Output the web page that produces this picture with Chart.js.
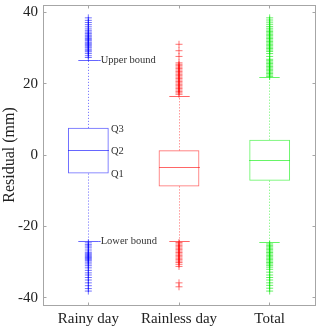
<!DOCTYPE html>
<html>
<head>
<meta charset="utf-8">
<script src="https://cdn.jsdelivr.net/npm/chart.js@4.4.1/dist/chart.umd.min.js"></script>
<style>
  html, body { margin: 0; padding: 0; background: #fff; }
  #wrap { width: 320px; height: 329px; position: relative; }
</style>
</head>
<body>
<div id="wrap"><canvas id="chart"></canvas></div>
<script>
'use strict';

// ---------- data ----------
const categories = ['Rainy day', 'Rainless day', 'Total'];
const q1 = [-5.2, -8.8, -7.2];
const median = [1.2, -3.5, -1.5];
const q3 = [7.6, 1.3, 4.3];
const upperBound = [26.6, 16.5, 21.6];
const lowerBound = [-24.1, -24.1, -24.5];
const yTicks = [-40, -20, 0, 20, 40];

const rainyOutliers = [
  27.3, 27.8, 28.4, 28.9, 29.2, 29.6, 30.0, 30.3, 30.7, 31.0, 31.3, 31.6, 32.0, 32.3,
  32.6, 33.0, 33.3, 33.6, 34.0, 34.4, 34.8, 35.3, 35.9, 36.5, 37.1, 37.7, 38.4,
  -24.6, -25.1, -25.5, -26.0, -26.6, -27.2, -27.5, -27.8, -28.1, -28.4, -28.7, -29.0,
  -29.3, -29.6, -30.0, -30.5, -31.0, -31.6, -32.3, -33.0, -33.6, -34.3, -35.0, -35.8,
  -36.6, -37.4, -38.1,
];
const rainlessOutliers = [
  17.0, 17.4, 17.8, 18.2, 18.6, 19.0, 19.4, 19.8, 20.2, 20.6, 21.0, 21.4, 21.8, 22.2,
  22.6, 23.0, 23.4, 23.8, 24.2, 24.6, 25.0, 25.4, 25.8, 27.6, 29.2, 31.0,
  -24.5, -24.9, -25.3, -25.7, -26.1, -26.5, -26.9, -27.3, -27.7, -28.1, -28.5, -28.9,
  -29.3, -29.7, -30.1, -30.6, -31.2, -35.8, -36.9,
];
const totalOutliers = [
  22.0, 22.4, 22.8, 23.2, 23.6, 24.0, 24.4, 24.8, 25.2, 25.6, 26.0, 26.4, 26.8, 27.6,
  28.4, 29.0, 29.4, 29.8, 30.2, 30.6, 31.0, 31.4, 31.8, 32.2, 32.6, 33.0, 33.4, 33.8,
  34.2, 34.6, 35.0, 35.5, 36.0, 36.6, 37.2, 37.8, 38.4,
  -24.9, -25.3, -25.7, -26.1, -26.5, -26.9, -27.3, -27.7, -28.1, -28.5, -28.9, -29.3,
  -29.7, -30.1, -30.5, -30.9, -31.4, -32.0, -32.8, -33.6, -34.3, -35.0, -35.8, -36.5,
  -37.3, -38.1,
];
const outliers = [rainyOutliers, rainlessOutliers, totalOutliers];

const COLORS = ['#0000ff', '#ff0000', '#00ee00'];
const POINT_COLORS = ['rgba(0,0,255,0.55)', 'rgba(255,0,0,0.55)', 'rgba(0,230,0,0.6)'];
const FONT = '"Liberation Serif", "Times New Roman", serif';

// ---------- plugins ----------
function seg(ctx, x1, y1, x2, y2) {
  ctx.beginPath();
  ctx.moveTo(x1, y1);
  ctx.lineTo(x2, y2);
  ctx.stroke();
}
const snap = (v) => Math.round(v - 0.5) + 0.5;

// median, whiskers, caps and the labels on the first box
const boxExtras = {
  id: 'boxExtras',
  afterDatasetsDraw(chart) {
    const { ctx, scales: { x, y } } = chart;
    const bars = chart.getDatasetMeta(0).data;
    ctx.save();
    ctx.lineWidth = 1;
    categories.forEach((c, i) => {
      const cx = snap(x.getPixelForValue(i));
      const half = bars[i].width / 2;
      const yMed = snap(y.getPixelForValue(median[i]));
      const yQ1 = y.getPixelForValue(q1[i]);
      const yQ3 = y.getPixelForValue(q3[i]);
      const yUp = snap(y.getPixelForValue(upperBound[i]));
      const yLo = snap(y.getPixelForValue(lowerBound[i]));
      ctx.strokeStyle = COLORS[i];
      ctx.globalAlpha = 0.6;
      seg(ctx, cx - half, yMed, cx + half, yMed);
      ctx.setLineDash([1, 2]);
      seg(ctx, cx, yQ3, cx, yUp);
      seg(ctx, cx, yQ1, cx, yLo);
      ctx.setLineDash([]);
      seg(ctx, cx - half / 2, yUp, cx + half / 2, yUp);
      seg(ctx, cx - half / 2, yLo, cx + half / 2, yLo);
      ctx.globalAlpha = 1;

      if (i === 0) {
        ctx.fillStyle = '#333';
        ctx.textBaseline = 'middle';
        ctx.textAlign = 'left';
        ctx.font = '10.5px ' + FONT;
        ctx.strokeStyle = COLORS[0];
        ctx.globalAlpha = 0.6;
        seg(ctx, cx + half / 2, yUp, cx + half / 2 + 2, yUp);
        seg(ctx, cx + half / 2, yLo, cx + half / 2 + 2, yLo);
        ctx.globalAlpha = 1;
        ctx.fillText('Upper bound', cx + half / 2 + 2, yUp);
        ctx.fillText('Lower bound', cx + half / 2 + 2, yLo);
        ctx.fillText('Q3', cx + half + 2, yQ3 + 1);
        ctx.fillText('Q2', cx + half + 2, yMed + 1);
        ctx.fillText('Q1', cx + half + 2, yQ1 + 1);
      }
    });
    ctx.restore();
  },
};

// MATLAB style box round the axes with inward ticks
const frame = {
  id: 'frame',
  afterDraw(chart) {
    const { ctx, chartArea: a, scales: { x, y } } = chart;
    const L = snap(a.left), R = snap(a.right), T = snap(a.top), B = snap(a.bottom);
    ctx.save();
    ctx.strokeStyle = '#a6a6a6';
    ctx.lineWidth = 1;
    ctx.strokeRect(L, T, R - L, B - T);
    for (const v of yTicks) {
      const py = snap(y.getPixelForValue(v));
      seg(ctx, L, py, L + 3, py);
      seg(ctx, R, py, R - 3, py);
    }
    categories.forEach((c, i) => {
      const px = snap(x.getPixelForValue(i));
      seg(ctx, px, B, px, B - 3);
      seg(ctx, px, T, px, T + 3);
    });
    ctx.restore();
  },
};

// ---------- chart ----------
const datasets = [{
  type: 'bar',
  data: categories.map((c, i) => [q1[i], q3[i]]),
  backgroundColor: 'rgba(255,255,255,0)',
  borderColor: COLORS.map((c) => c + '99'),
  borderWidth: 1,
  borderSkipped: false,
  categoryPercentage: 1,
  barPercentage: 0.45,
  order: 2,
}];
outliers.forEach((vals, i) => {
  datasets.push({
    type: 'line',
    showLine: false,
    data: vals.map((v) => ({ x: categories[i], y: v })),
    pointStyle: 'cross',
    pointRadius: 3.5,
    pointBorderWidth: 1,
    pointBorderColor: POINT_COLORS[i],
    pointBackgroundColor: POINT_COLORS[i],
    order: 1,
  });
});

new Chart(document.getElementById('chart'), {
  type: 'bar',
  data: { labels: categories, datasets },
  options: {
    responsive: true,
    maintainAspectRatio: false,
    animation: false,
    layout: { padding: { top: 3, right: 3, left: 0, bottom: 0 } },
    plugins: {
      legend: { display: false },
      tooltip: { enabled: false },
    },
    scales: {
      x: {
        grid: { display: false, drawTicks: false },
        border: { display: false },
        ticks: { color: '#222', font: { family: FONT, size: 15 }, padding: 5 },
        afterFit: (s) => { s.height = 24; s.paddingLeft = 0; s.paddingRight = 0; },
      },
      y: {
        min: -42,
        max: 42,
        grid: { display: false, drawTicks: false },
        border: { display: false },
        afterBuildTicks: (s) => { s.ticks = yTicks.map((v) => ({ value: v })); },
        ticks: { color: '#222', font: { family: FONT, size: 15 }, padding: 5 },
        title: {
          display: true,
          text: 'Residual (mm)',
          color: '#222',
          font: { family: FONT, size: 16 },
          padding: { top: 0, bottom: 0 },
        },
        afterFit: (s) => { s.width = 43; s.paddingTop = 0; s.paddingBottom = 0; },
      },
    },
  },
  plugins: [boxExtras, frame],
});
</script>
</body>
</html>
